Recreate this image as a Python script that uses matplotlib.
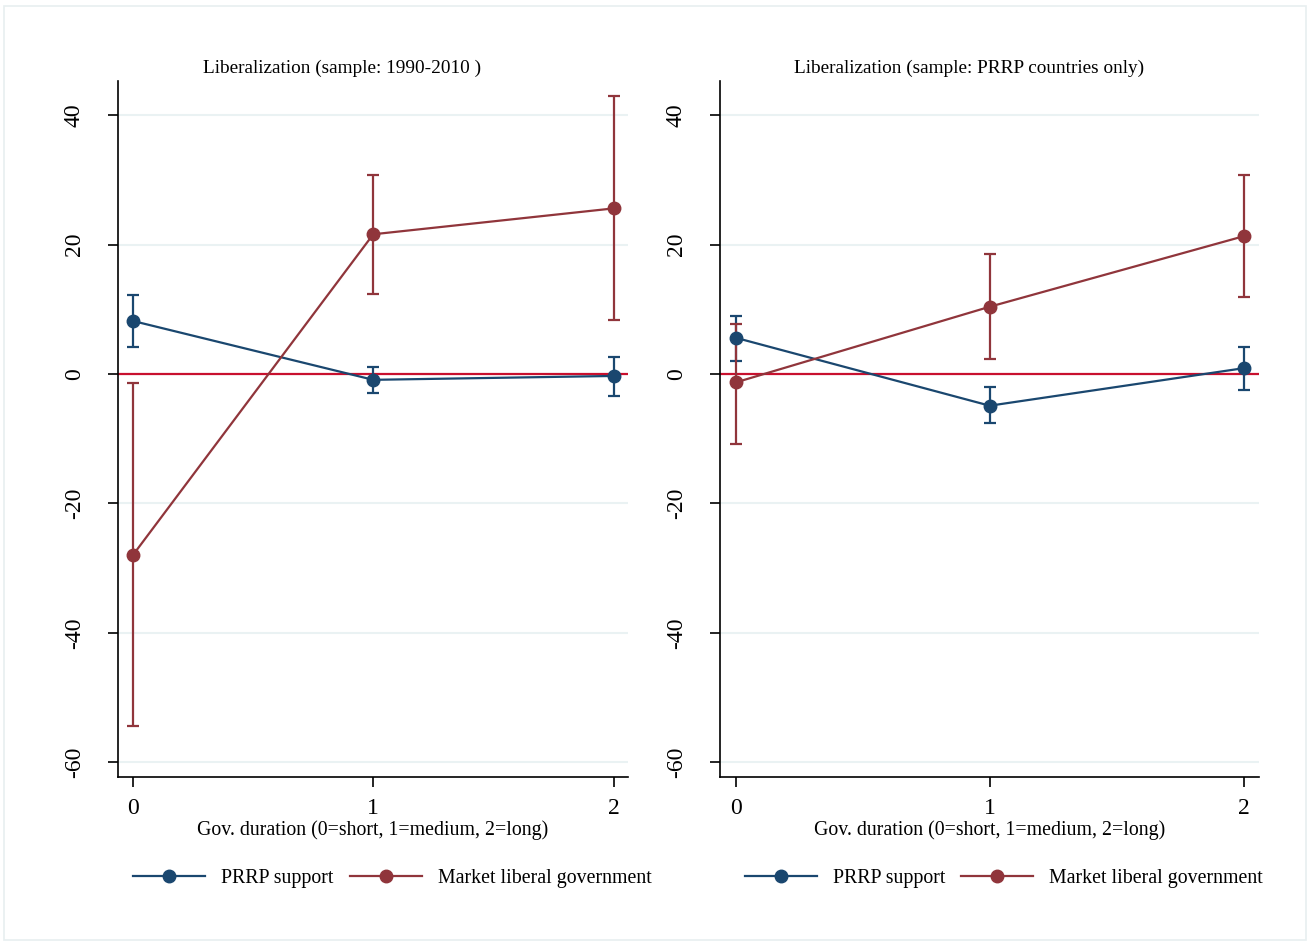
import numpy as np
import matplotlib
matplotlib.use("Agg")
import matplotlib.pyplot as plt
from matplotlib.patches import Rectangle

plt.rcParams['font.family'] = ['Liberation Serif', 'DejaVu Serif']

# === Data ===
durations = [0, 1, 2]
tick_labels = ['0', '1', '2']
titles = ["Liberalization (sample: 1990-2010 )",
          "Liberalization (sample: PRRP countries only)"]

# panel 1: all countries 1990-2010
prrp_1 = [8.2, -0.9, -0.3]
prrp_1_lo = [4.2, -2.9, -3.4]
prrp_1_hi = [12.2, 1.1, 2.7]
mkt_1 = [-28.0, 21.6, 25.6]
mkt_1_lo = [-54.4, 12.3, 8.3]
mkt_1_hi = [-1.4, 30.8, 43.0]

# panel 2: PRRP countries only
prrp_2 = [5.6, -4.9, 0.9]
prrp_2_lo = [2.0, -7.5, -2.4]
prrp_2_hi = [9.0, -2.0, 4.2]
mkt_2 = [-1.3, 10.4, 21.3]
mkt_2_lo = [-10.8, 2.3, 11.9]
mkt_2_hi = [7.8, 18.5, 30.8]

y_ticks = [-60, -40, -20, 0, 20, 40]

navy = '#1a476f'
maroon = '#90353b'
zero_col = '#c8102e'
grid_col = '#eaf2f3'

fig = plt.figure(figsize=(13.11, 9.47), dpi=100)
fig.patches.append(Rectangle((0.003, 0.007), 0.993, 0.987, transform=fig.transFigure,
                             fill=False, edgecolor='#e8eff0', linewidth=1.2))

# axes rect, legend x, title x (axes coords)
ax_specs = [
    ([0.0900, 0.1795, 0.3890, 0.7350], 0.538, 0.439),
    ([0.5492, 0.1795, 0.4111, 0.7350], 0.527, 0.463),
]

panels = [
    (prrp_1, prrp_1_lo, prrp_1_hi, mkt_1, mkt_1_lo, mkt_1_hi),
    (prrp_2, prrp_2_lo, prrp_2_hi, mkt_2, mkt_2_lo, mkt_2_hi),
]


def draw_series(ax, y, lo, hi, color, label):
    y = np.array(y)
    err = [y - np.array(lo), np.array(hi) - y]
    ax.errorbar(durations, y, yerr=err, fmt='none', ecolor=color, elinewidth=1.6,
                capsize=4.5, capthick=1.6, zorder=3)
    line, = ax.plot(durations, y, color=color, linewidth=1.6, marker='o',
                    markersize=9, label=label, zorder=4)
    return line


for (rect, leg_x, title_x), data, title in zip(ax_specs, panels, titles):
    ax = fig.add_axes(rect)
    p, p_lo, p_hi, m, m_lo, m_hi = data

    for yt in y_ticks:
        ax.axhline(yt, color=grid_col, linewidth=1.5, zorder=0)
    ax.axhline(0, color=zero_col, linewidth=1.6, zorder=2)

    h1 = draw_series(ax, p, p_lo, p_hi, navy, 'PRRP support')
    h2 = draw_series(ax, m, m_lo, m_hi, maroon, 'Market liberal government')

    ax.set_xlim(-0.062, 2.06)
    ax.set_ylim(-62.3, 45.3)
    ax.set_xticks(durations)
    ax.set_xticklabels(tick_labels, fontsize=17)
    ax.set_yticks(y_ticks)
    ax.set_yticklabels([str(t) for t in y_ticks], fontsize=17, rotation=90, va='center')
    ax.tick_params(axis='both', length=7, width=1.2, color='black')
    ax.tick_params(axis='x', pad=8)
    ax.tick_params(axis='y', pad=17)

    for side in ['top', 'right']:
        ax.spines[side].set_visible(False)
    for side in ['left', 'bottom']:
        ax.spines[side].set_linewidth(1.2)

    ax.text(title_x, 1.005, title, transform=ax.transAxes, ha='center', va='bottom',
            fontsize=13.9)
    ax.set_xlabel('Gov. duration (0=short, 1=medium, 2=long)', fontsize=14.3, labelpad=1)

    ax.legend(handles=[h1, h2], loc='center', bbox_to_anchor=(leg_x, -0.146), ncol=2,
              frameon=False, fontsize=14.3, handlelength=3.63, handletextpad=0.8,
              columnspacing=0.8)

fig.savefig('out.png', dpi=100, facecolor='white')
